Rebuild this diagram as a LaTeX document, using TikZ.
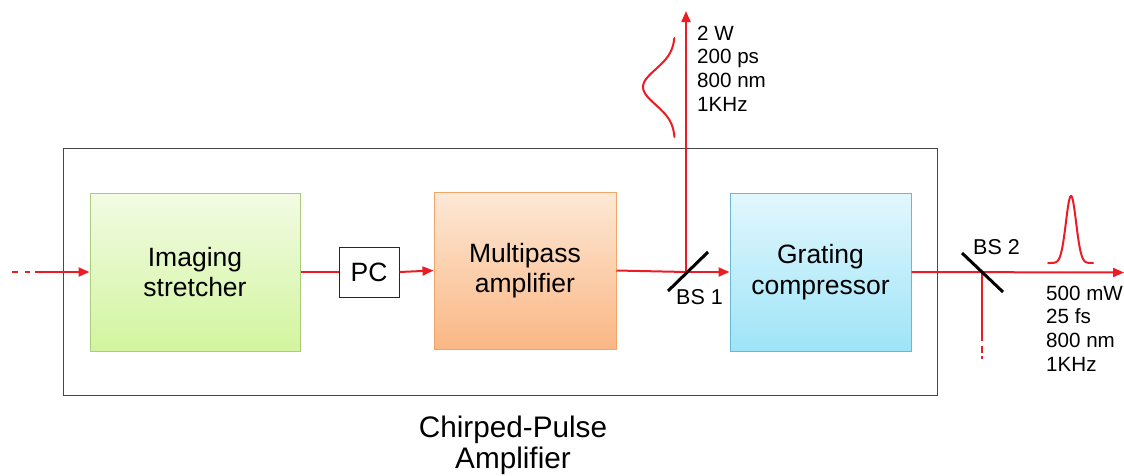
\documentclass[tikz,border=0pt]{standalone}
\usepackage{fontspec}
\setmainfont{Liberation Sans}
\usetikzlibrary{arrows.meta}
\definecolor{beam}{RGB}{236,28,36}
\definecolor{frame}{RGB}{70,70,70}
\definecolor{gtop}{RGB}{242,251,228}
\definecolor{gbot}{RGB}{210,245,158}
\definecolor{gline}{RGB}{170,205,125}
\definecolor{otop}{RGB}{253,232,214}
\definecolor{obot}{RGB}{250,183,132}
\definecolor{oline}{RGB}{240,165,105}
\definecolor{btop}{RGB}{226,247,253}
\definecolor{bbot}{RGB}{158,228,248}
\definecolor{bline}{RGB}{105,185,210}
\tikzset{
  blockbox/.style={draw, line width=1pt, inner sep=0pt, align=center,
    font=\fontsize{26.5}{30.5}\selectfont},
  pcbox/.style={draw=black!85, fill=white, line width=1pt, minimum width=60pt,
    minimum height=50pt, inner sep=0pt, font=\fontsize{26.5}{30}\selectfont},
  beamline/.style={draw=beam, line width=2pt},
  beamarrow/.style={beamline, -{Triangle[length=11pt,width=9pt]}},
  mirror/.style={draw=black, line width=3pt},
  pulse/.style={draw=beam, line width=2pt, line cap=round},
  spec/.style={align=left, anchor=north west, inner sep=0pt,
    font=\fontsize{20.6}{23.7}\selectfont},
  bslabel/.style={anchor=base west, inner sep=0pt, font=\fontsize{21.5}{24}\selectfont}
}
\begin{document}
\begin{tikzpicture}[x=1pt,y=-1pt]
\useasboundingbox (0,0) rectangle (1124,475);
% outer frame
\draw[frame, line width=1pt] (63,148) rectangle (937,395);
% blocks
\node[blockbox, draw=gline, top color=gtop, bottom color=gbot,
  minimum width=210pt, minimum height=158pt] (str) at (195,272) {Imaging\\stretcher};
\node[pcbox] (pc) at (369,272) {PC};
\node[blockbox, draw=oline, top color=otop, bottom color=obot,
  minimum width=182pt, minimum height=157pt] (amp) at (525,270.5) {Multipass\\amplifier};
\node[blockbox, draw=bline, top color=btop, bottom color=bbot,
  minimum width=181pt, minimum height=158pt] (grc) at (820.5,272) {Grating\\compressor};
% coordinates
\coordinate (in0) at (12,272);
\coordinate (bs1) at (686,272);
\coordinate (top) at (686,11);
\coordinate (bs2) at (982,272.5);
\coordinate (down) at (982,359);
\coordinate (out) at (1124,272.5);
% beams
\draw[beamarrow, dash pattern=on 6pt off 7pt on 5pt off 5pt on 300pt] (in0) -- (str.west);
\draw[beamline] (str.east) -- (pc.west);
\draw[beamarrow] (pc.east) -- (amp.west);
\draw[beamline] (amp.east) -- (bs1);
\draw[beamarrow] (bs1) -- (grc.west);
\draw[beamarrow] (bs1) -- (top);
\draw[beamarrow] (grc.east) -- (out);
\draw[beamline, dash pattern=on 68pt off 5pt on 7pt off 3pt on 4pt] (bs2) -- (down);
% mirrors
\draw[mirror] ([shift={(-18,19)}]bs1) -- ([shift={(22,-20)}]bs1);
\draw[mirror] ([shift={(-20,-19.5)}]bs2) -- ([shift={(21,19.5)}]bs2);
\node[bslabel] (bs1l) at (676,304) {BS 1};
\node[bslabel] (bs2l) at (973,254) {BS 2};
% pulses
\draw[pulse] plot[domain=38:137, samples=80, smooth] ({675-32*exp(-((\x-87)/25)^2)}, \x);
\draw[pulse] plot[domain=1048:1093, samples=90, smooth] (\x, {263-67*exp(-((\x-1071)/7.2)^2)});
% specs
\node[spec] (spec1) at (697,25.5) {2 W\\200 ps\\800 nm\\1KHz};
\node[spec] (spec2) at (1046,285.5) {500 mW\\25 fs\\800 nm\\1KHz};
% caption
\node[align=center, anchor=north, inner sep=0pt, font=\fontsize{29.7}{31.5}\selectfont]
  (cap) at (513,415.5) {Chirped-Pulse\\Amplifier};
\end{tikzpicture}
\end{document}
